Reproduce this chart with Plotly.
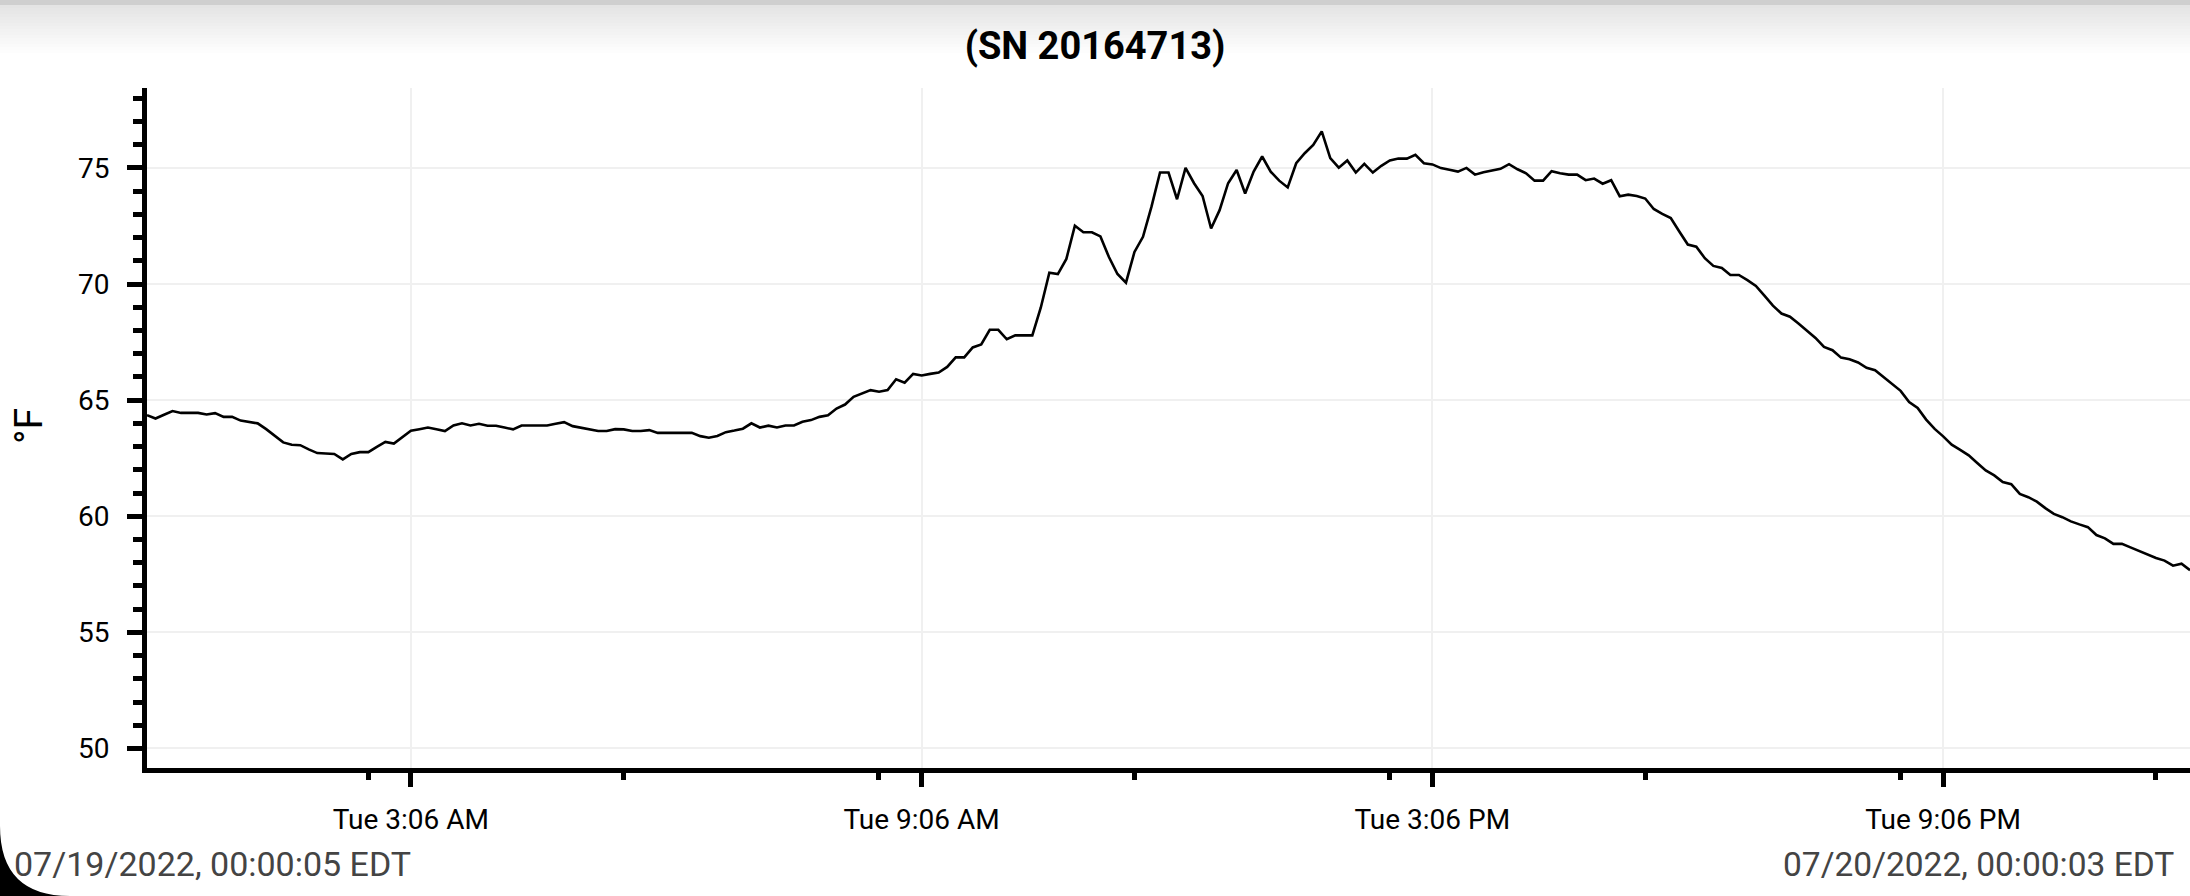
import pandas as pd
import plotly.graph_objects as go

# ---------------- data ----------------
START = "2022-07-19 00:00:05"
END = "2022-07-20 00:00:03"
INTERVAL = "6min"

TEMP_F = [
    64.35, 64.21, 64.37, 64.53, 64.45, 64.45, 64.45, 64.38, 64.44, 64.28,
    64.28, 64.12, 64.05, 64.00, 63.75, 63.45, 63.18, 63.08, 63.06, 62.88,
    62.72, 62.70, 62.68, 62.45, 62.68, 62.76, 62.76, 62.99, 63.20, 63.13,
    63.39, 63.68, 63.75, 63.82, 63.75, 63.67, 63.91, 64.00, 63.91, 63.98,
    63.90, 63.90, 63.82, 63.74, 63.91, 63.91, 63.91, 63.91, 63.98, 64.05,
    63.88, 63.80, 63.72, 63.67, 63.67, 63.75, 63.74, 63.67, 63.67, 63.71,
    63.59, 63.59, 63.59, 63.59, 63.59, 63.45, 63.38, 63.46, 63.62, 63.69,
    63.77, 64.00, 63.82, 63.90, 63.82, 63.91, 63.91, 64.07, 64.14, 64.28,
    64.35, 64.64, 64.81, 65.14, 65.29, 65.43, 65.36, 65.43, 65.90, 65.75,
    66.13, 66.06, 66.13, 66.19, 66.43, 66.84, 66.84, 67.27, 67.40, 68.03,
    68.03, 67.62, 67.79, 67.79, 67.79, 68.99, 70.49, 70.43, 71.08, 72.51,
    72.23, 72.23, 72.05, 71.16, 70.43, 70.06, 71.38, 72.03, 73.33, 74.80,
    74.80, 73.65, 75.00, 74.34, 73.79, 72.39, 73.18, 74.34, 74.91, 73.90,
    74.84, 75.49, 74.84, 74.45, 74.16, 75.20, 75.63, 75.99, 76.57, 75.42,
    75.01, 75.32, 74.80, 75.17, 74.80, 75.09, 75.32, 75.40, 75.40, 75.56,
    75.20, 75.15, 74.99, 74.92, 74.84, 75.00, 74.71, 74.81, 74.88, 74.96,
    75.16, 74.94, 74.77, 74.45, 74.45, 74.86, 74.77, 74.71, 74.71, 74.47,
    74.54, 74.32, 74.47, 73.78, 73.85, 73.79, 73.68, 73.23, 73.02, 72.84,
    72.26, 71.70, 71.61, 71.11, 70.78, 70.69, 70.39, 70.39, 70.17, 69.92,
    69.50, 69.07, 68.73, 68.59, 68.30, 67.99, 67.68, 67.29, 67.15, 66.83,
    66.76, 66.62, 66.39, 66.29, 66.00, 65.71, 65.40, 64.92, 64.66, 64.16,
    63.76, 63.44, 63.08, 62.86, 62.62, 62.29, 61.97, 61.76, 61.47, 61.38,
    60.96, 60.82, 60.63, 60.35, 60.10, 59.96, 59.78, 59.65, 59.53, 59.19,
    59.05, 58.81, 58.81, 58.66, 58.50, 58.35, 58.20, 58.09, 57.87, 57.96,
    57.68,
]

TICK_VALS = ["2022-07-19 03:06", "2022-07-19 09:06", "2022-07-19 15:06", "2022-07-19 21:06"]
TICK_TEXT = ["Tue 3:06 AM", "Tue 9:06 AM", "Tue 3:06 PM", "Tue 9:06 PM"]
MINOR_TICK0 = "2022-07-19 02:36"

TITLE = "(SN 20164713)"
Y_TITLE = "°F"
START_LABEL = "07/19/2022, 00:00:05 EDT"
END_LABEL = "07/20/2022, 00:00:03 EDT"

times = pd.date_range(START, periods=len(TEMP_F), freq=INTERVAL)

# ---------------- figure ----------------
W, H = 2190, 896
ML, MR, MT, MB = 147, 0, 88, 128
PH = H - MT - MB

def py(pix):
    """pixel row -> paper y"""
    return (H - MB - pix) / PH

def px(pix):
    return (pix - ML) / (W - ML - MR)

fig = go.Figure()
fig.add_trace(go.Scatter(
    x=times, y=TEMP_F, mode="lines",
    line=dict(color="black", width=2.6),
    hoverinfo="skip", showlegend=False,
))

font = "Roboto, Arial, sans-serif"

shapes = []
# top shadow of the screenshot
shapes.append(dict(type="rect", xref="paper", yref="paper", x0=px(0), x1=px(W),
                   y0=py(5), y1=py(0), fillcolor="#cfcfcf", line=dict(width=0), layer="above"))
n = 16
for k in range(n):
    g = int(round(228 + (255 - 228) * (k / n)))
    shapes.append(dict(type="rect", xref="paper", yref="paper", x0=px(0), x1=px(W),
                       y0=py(5 + (k + 1) * 3), y1=py(5 + k * 3),
                       fillcolor=f"rgb({g},{g},{g})", line=dict(width=0), layer="below"))
# rounded screen corner at bottom left
x0, x1 = px(0), px(70)
ya, yb = py(826), py(H)
shapes.append(dict(type="path", xref="paper", yref="paper",
                   path=f"M {x0},{ya} Q {x0},{yb} {x1},{yb} L {x0},{yb} Z",
                   fillcolor="black", line=dict(width=0), layer="above"))

annotations = [
    dict(text=Y_TITLE, xref="paper", yref="paper", x=px(29), y=py(426),
         xanchor="center", yanchor="middle", textangle=-90, showarrow=False,
         font=dict(family=font, size=39, color="black")),
    dict(text=START_LABEL, xref="paper", yref="paper", x=px(12), y=py(864),
         xanchor="left", yanchor="middle", showarrow=False,
         font=dict(family=font, size=34, color="#444444")),
    dict(text=END_LABEL, xref="paper", yref="paper", x=px(2176), y=py(864),
         xanchor="right", yanchor="middle", showarrow=False,
         font=dict(family=font, size=33.5, color="#444444")),
]

fig.update_layout(
    width=W, height=H, autosize=False,
    margin=dict(l=ML, r=MR, t=MT, b=MB, pad=0),
    paper_bgcolor="white", plot_bgcolor="white",
    title=dict(text=f"<b>{TITLE}</b>", x=0.5, xref="container", xanchor="center",
               y=1 - 46 / H, yref="container", yanchor="middle",
               font=dict(family=font, size=38, color="black")),
    font=dict(family=font, size=28, color="black"),
    shapes=shapes,
    annotations=annotations,
)

fig.update_xaxes(
    type="date", range=[START, END],
    tickmode="array", tickvals=TICK_VALS, ticktext=TICK_TEXT,
    ticks="outside", ticklen=14, tickwidth=5, tickcolor="black",
    showline=True, linecolor="black", linewidth=5,
    showgrid=True, gridcolor="#f0f0f0", gridwidth=2,
    zeroline=False,
    tickfont=dict(family=font, size=28, color="black"),
    ticklabelstandoff=8,
    minor=dict(tick0=MINOR_TICK0, dtick=3 * 3600 * 1000, ticks="outside",
               ticklen=7, tickwidth=5, tickcolor="black", showgrid=False),
)
fig.update_yaxes(
    range=[49.16, 78.44],
    tickmode="linear", tick0=50, dtick=5,
    ticks="outside", ticklen=15, tickwidth=5, tickcolor="black",
    showline=True, linecolor="black", linewidth=5,
    showgrid=True, gridcolor="#f0f0f0", gridwidth=2,
    zeroline=False,
    tickfont=dict(family=font, size=28, color="black"),
    ticklabelstandoff=12,
    minor=dict(tick0=50, dtick=1, ticks="outside", ticklen=9, tickwidth=5,
               tickcolor="black", showgrid=False),
)

fig.write_html(
    "out.html",
    config={"displayModeBar": False},
    post_script="document.body.style.margin='0';document.body.style.overflow='hidden';",
)
